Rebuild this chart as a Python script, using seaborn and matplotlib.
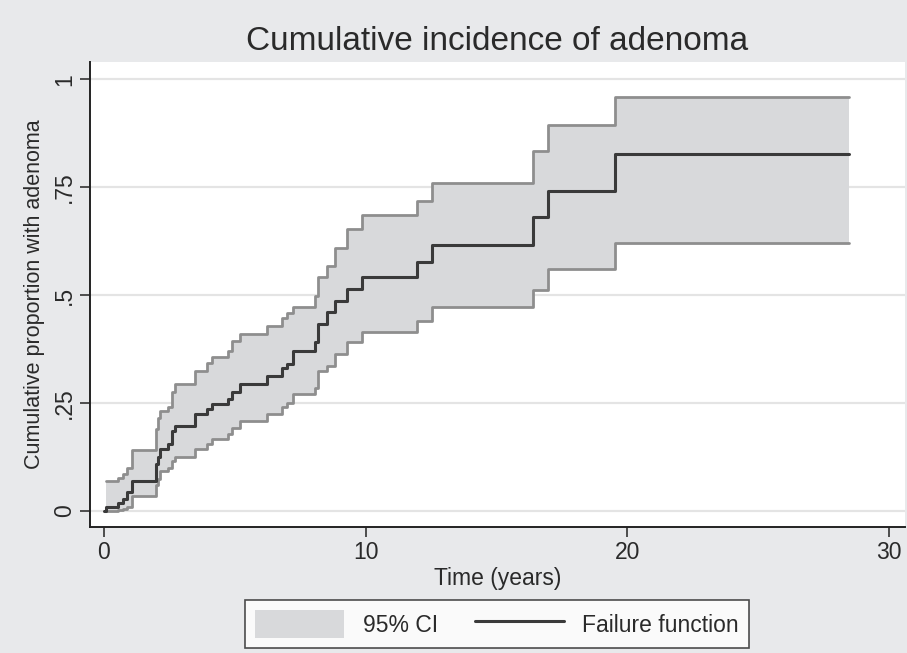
import numpy as np
import pandas as pd
import matplotlib
matplotlib.use("Agg")
import matplotlib.pyplot as plt
import seaborn as sns
from matplotlib.patches import Patch
from matplotlib.lines import Line2D

# ---- data ----
time_years = [0.00, 0.10, 0.55, 0.74, 0.87, 1.06, 2.01, 2.08, 2.14, 2.46, 2.59, 2.71,
              3.48, 3.92, 4.12, 4.75, 4.88, 5.20, 6.22, 6.79, 7.01, 7.23, 8.06, 8.19,
              8.51, 8.83, 9.27, 9.85, 11.96, 12.53, 16.40, 16.98, 19.53, 28.47]
failure = [0.000, 0.010, 0.019, 0.029, 0.043, 0.070, 0.110, 0.125, 0.143, 0.155, 0.186, 0.197,
           0.224, 0.236, 0.249, 0.260, 0.276, 0.295, 0.313, 0.331, 0.340, 0.371, 0.391, 0.433,
           0.460, 0.487, 0.514, 0.543, 0.577, 0.615, 0.680, 0.742, 0.828, 0.828]
ci_lower = [np.nan, 0.001, 0.003, 0.005, 0.010, 0.035, 0.060, 0.075, 0.093, 0.100, 0.115, 0.124,
            0.143, 0.155, 0.166, 0.178, 0.192, 0.209, 0.224, 0.240, 0.251, 0.271, 0.286, 0.325,
            0.336, 0.364, 0.391, 0.414, 0.439, 0.472, 0.512, 0.561, 0.621, 0.621]
ci_upper = [np.nan, 0.070, 0.077, 0.085, 0.100, 0.141, 0.190, 0.215, 0.232, 0.240, 0.275, 0.294,
            0.325, 0.344, 0.356, 0.370, 0.394, 0.410, 0.429, 0.448, 0.458, 0.472, 0.499, 0.541,
            0.568, 0.610, 0.654, 0.686, 0.719, 0.760, 0.835, 0.895, 0.959, 0.959]

y_ticks = [0, 0.25, 0.5, 0.75, 1]
y_tick_labels = ["0", ".25", ".5", ".75", "1"]
x_ticks = [0, 10, 20, 30]

df = pd.DataFrame({"time": time_years, "failure": failure,
                   "lower": ci_lower, "upper": ci_upper})

sns.set_theme(style="white")
plt.rcParams['font.family'] = ['Liberation Sans', 'DejaVu Sans']

BG = "#e8e9eb"
FILL = "#d8d9db"
EDGE = "#8e8e8e"
DARK = "#3a3a3a"
TXT = "#2a2a2a"

fig = plt.figure(figsize=(9.07, 6.53), dpi=100, facecolor=BG)
ax = fig.add_axes([90/907, 1-527/653, 815/907, (527-62)/653])
ax.set_facecolor("white")

for yt in y_ticks:
    ax.axhline(yt, color="#e4e4e4", lw=1.6, zorder=0)

ci = df.dropna()
ax.fill_between(ci["time"], ci["lower"], ci["upper"], step="post",
                color=FILL, lw=0, zorder=1)
sns.lineplot(data=ci, x="time", y="lower", drawstyle="steps-post", color=EDGE,
             lw=2.0, ax=ax, zorder=2)
sns.lineplot(data=ci, x="time", y="upper", drawstyle="steps-post", color=EDGE,
             lw=2.0, ax=ax, zorder=2)
sns.lineplot(data=df, x="time", y="failure", drawstyle="steps-post", color=DARK,
             lw=2.2, ax=ax, zorder=3)

ax.set_xlim(-0.53, 30.6)
ax.set_ylim(-0.037, 1.04)
ax.set_xticks(x_ticks)
ax.set_yticks(y_ticks)
ax.set_yticklabels(y_tick_labels, rotation=90, va="center")
ax.tick_params(axis="both", which="major", direction="out", length=7, width=1.1,
               color="#222222", labelsize=16.5, labelcolor=TXT, pad=3,
               left=True, bottom=True)
for s in ["top", "right"]:
    ax.spines[s].set_visible(False)
for s in ["left", "bottom"]:
    ax.spines[s].set_color("#222222")
    ax.spines[s].set_linewidth(1.4)

ax.set_xlabel("Time (years)", fontsize=16.5, color=TXT, labelpad=2)
ax.set_ylabel("Cumulative proportion with adenoma", fontsize=15.5, color=TXT, labelpad=6)
fig.text(497/907, 1-42/653, "Cumulative incidence of adenoma", fontsize=24,
         color=TXT, ha="center", va="center")

handles = [Patch(facecolor=FILL, edgecolor="none", label="95% CI"),
           Line2D([0], [0], color=DARK, lw=2.2, label="Failure function")]
leg = fig.legend(handles=handles, loc="center", bbox_to_anchor=(497/907, 1-624/653), ncol=2,
                 frameon=True, fancybox=False, fontsize=16.5, handlelength=3.9,
                 handleheight=1.5, columnspacing=1.6, borderpad=0.45, handletextpad=0.8)
leg.get_frame().set_edgecolor("#222222")
leg.get_frame().set_linewidth(1.2)
leg.get_frame().set_facecolor("white")
for t in leg.get_texts():
    t.set_color(TXT)

fig.savefig("out.png", dpi=100, facecolor=BG)
